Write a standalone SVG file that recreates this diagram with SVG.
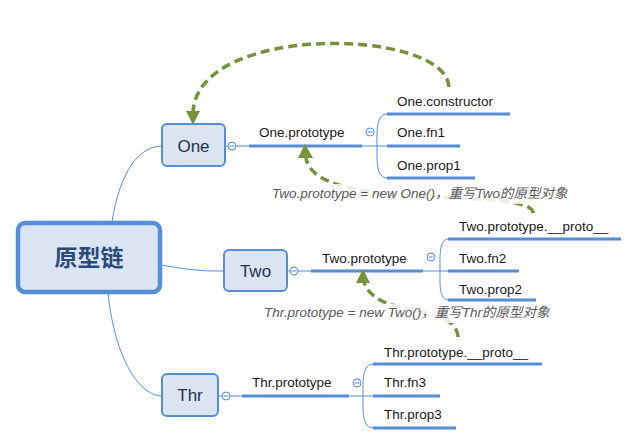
<svg xmlns="http://www.w3.org/2000/svg" width="638" height="445" viewBox="0 0 638 445">
<defs>
<style>
.bg{fill:#ffffff}
.node rect{fill:#dbe5f2;stroke:#558ed5;stroke-width:2}
.root rect{fill:#dbe5f2;stroke:#558ed5;stroke-width:4.5}
.ntxt{font-family:"Liberation Sans","Noto Sans CJK SC",sans-serif;font-size:17px;fill:#1f3050;text-anchor:middle}
.rtxt{font-family:"Noto Sans CJK SC","Liberation Sans",sans-serif;font-size:23px;font-weight:bold;fill:#2b4a7c;text-anchor:middle}
.txt{font-family:"Liberation Sans","Noto Sans CJK SC",sans-serif;font-size:13.5px;fill:#1a1a1a}
.thin{fill:none;stroke:#558ed5;stroke-width:1}
.thick{fill:none;stroke:#558ed5;stroke-width:3}
.col circle{fill:#ffffff;stroke:#558ed5;stroke-width:1}
.col line{stroke:#558ed5;stroke-width:1}
.dash{fill:none;stroke:#76923c;stroke-width:3.5;stroke-dasharray:9 5}
.ahd{fill:#76923c}
.lbl{font-family:"Liberation Sans","Noto Sans CJK SC",sans-serif;font-size:13.5px;font-style:italic;fill:#595959}
.lblbg{fill:#ffffff;fill-opacity:0.85}
</style>
</defs>
<rect class="bg" x="0" y="0" width="638" height="445"/>

<g id="connectors">
<path class="thin" d="M112,222 C120,170 140,146 162,146"/>
<path class="thin" d="M161,265 C190,270 200,271 223,271"/>
<path class="thin" d="M108,293 C115,360 140,396 162,396"/>
<!-- One branch -->
<path class="thin" d="M225,146 H228 M236,146 H249 M362,146 H387"/>
<path class="thick" d="M249,146 H362"/>
<path class="thin" d="M388,114 C376,114 377,130 377,146 C377,162 376,178 388,178"/>
<path class="thick" d="M387,114 H510 M387,146 H460 M387,178 H475"/>
<!-- Two branch -->
<path class="thin" d="M287,271 H290 M298,271 H311 M423,271 H448"/>
<path class="thick" d="M311,271 H423"/>
<path class="thin" d="M449,239 C439,239 440,255 440,270 C440,285 439,300 449,300"/>
<path class="thick" d="M448,239 H621 M448,271 H519 M448,300 H536"/>
<!-- Thr branch -->
<path class="thin" d="M218,396 H222 M230,396 H242 M349,396 H373"/>
<path class="thick" d="M242,396 H349"/>
<path class="thin" d="M374,364 C362,364 363,380 363,396 C363,412 362,428 374,428"/>
<path class="thick" d="M373,364 H542 M373,396 H440 M373,428 H456"/>
<!-- relation arrows -->
<path class="dash" d="M449,87 C446,28 198,22 193,112"/>
<polygon class="ahd" points="186,111 200,111 193,125"/>
<path class="dash" d="M533,213 C532,185 315,215 306,158"/>
<polygon class="ahd" points="298,158 313,158 305,144"/>
<path class="dash" d="M458,337 C456,302 376,320 364,282"/>
<polygon class="ahd" points="356,283 370,283 363,269"/>
</g>

<g id="collapse">
<g class="col"><circle cx="232" cy="146" r="4"/><line x1="229.5" y1="146" x2="234.5" y2="146"/></g>
<g class="col"><circle cx="370" cy="132" r="4"/><line x1="367.5" y1="132" x2="372.5" y2="132"/></g>
<g class="col"><circle cx="294" cy="271" r="4"/><line x1="291.5" y1="271" x2="296.5" y2="271"/></g>
<g class="col"><circle cx="431" cy="257" r="4"/><line x1="428.5" y1="257" x2="433.5" y2="257"/></g>
<g class="col"><circle cx="226" cy="396" r="4"/><line x1="223.5" y1="396" x2="228.5" y2="396"/></g>
<g class="col"><circle cx="357" cy="383" r="4"/><line x1="354.5" y1="383" x2="359.5" y2="383"/></g>
</g>

<g id="root" class="root">
<rect x="18" y="223" width="142" height="69" rx="7"/>
<text class="rtxt" x="89" y="266">原型链</text>
</g>
<g id="one" class="node">
<rect x="162" y="124" width="63" height="42" rx="5"/>
<text class="ntxt" x="193.5" y="152">One</text>
</g>
<g id="two" class="node">
<rect x="224" y="250" width="63" height="41" rx="5"/>
<text class="ntxt" x="255.5" y="277">Two</text>
</g>
<g id="thr" class="node">
<rect x="162" y="374" width="56" height="42" rx="5"/>
<text class="ntxt" x="190" y="401">Thr</text>
</g>

<g id="one-prototype"><text class="txt" x="259" y="137">One.prototype</text></g>
<g id="one-constructor"><text class="txt" x="397" y="106">One.constructor</text></g>
<g id="one-fn1"><text class="txt" x="397" y="137">One.fn1</text></g>
<g id="one-prop1"><text class="txt" x="397" y="170">One.prop1</text></g>

<g id="two-prototype"><text class="txt" x="322" y="263">Two.prototype</text></g>
<g id="two-proto"><text class="txt" x="459" y="231">Two.prototype.__proto__</text></g>
<g id="two-fn2"><text class="txt" x="459" y="263">Two.fn2</text></g>
<g id="two-prop2"><text class="txt" x="459" y="294">Two.prop2</text></g>

<g id="thr-prototype"><text class="txt" x="252" y="387">Thr.prototype</text></g>
<g id="thr-proto"><text class="txt" x="384" y="357">Thr.prototype.__proto__</text></g>
<g id="thr-fn3"><text class="txt" x="384" y="387">Thr.fn3</text></g>
<g id="thr-prop3"><text class="txt" x="384" y="419">Thr.prop3</text></g>

<g id="label-two">
<rect class="lblbg" x="268" y="184" width="302" height="20"/>
<text class="lbl" x="272" y="198">Two.prototype = new One()，重写Two的原型对象</text>
</g>
<g id="label-thr">
<rect class="lblbg" x="260" y="304" width="294" height="19"/>
<text class="lbl" x="264" y="317">Thr.prototype = new Two()，重写Thr的原型对象</text>
</g>
</svg>
